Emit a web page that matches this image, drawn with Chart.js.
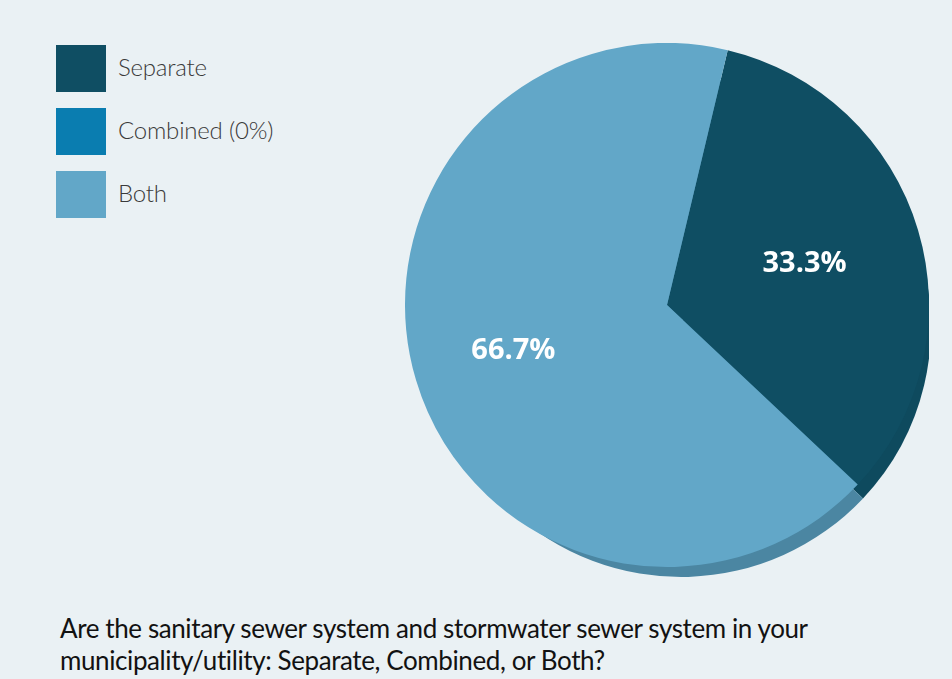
<!DOCTYPE html>
<html>
<head>
<meta charset="utf-8">
<script src="https://cdn.jsdelivr.net/npm/chart.js@4.4.1/dist/chart.umd.min.js"></script>
<style>
  html, body { margin: 0; padding: 0; }
  body { width: 952px; height: 679px; background: #eaf1f4; position: relative; overflow: hidden; font-family: Lato, "Open Sans", sans-serif; }
  #legend { position: absolute; left: 56px; top: 45px; }
  .item { display: flex; align-items: center; height: 47px; margin-bottom: 16px; }
  .swatch { width: 50px; height: 47px; margin-right: 12px; }
  .item span { font-size: 24px; font-weight: 300; color: #3a3a3a; letter-spacing: -0.2px; margin-top: -4px; }
  #wrap { position: absolute; left: 405px; top: 43px; width: 524px; height: 552px; }
  #title { position: absolute; left: 60px; top: 612px; font-size: 26px; line-height: 32px; color: #121212; letter-spacing: -0.4px; }
</style>
</head>
<body>
<div id="legend"></div>
<div id="wrap"><canvas id="pie"></canvas></div>
<div id="title">Are the sanitary sewer system and stormwater sewer system in your<br>municipality/utility: Separate, Combined, or Both?</div>
<script>
  "use strict";

  const categories = ["Separate", "Combined", "Both"];
  const legendLabels = ["Separate", "Combined (0%)", "Both"];
  const shares = [33.3, 0, 66.7];
  const sliceColors = ["#0f4e63", "#0a7db0", "#62a7c8"];
  const rimColors = ["#0e4a5e", "#08699a", "#4b86a2"];

  // legend built from the same arrays
  const legend = document.getElementById("legend");
  legendLabels.forEach((label, i) => {
    const row = document.createElement("div");
    row.className = "item";
    row.innerHTML = `<div class="swatch" style="background:${sliceColors[i]}"></div><span>${label}</span>`;
    legend.appendChild(row);
  });

  // darker side of each slice, shifted down for the tilted look
  const rim = {
    id: "rim",
    beforeDatasetsDraw(chart) {
      const { ctx } = chart;
      ctx.save();
      ctx.translate(14, 22);
      chart.getDatasetMeta(0).data.forEach((arc, i) => {
        if (!shares[i]) return;
        ctx.fillStyle = rimColors[i];
        ctx.beginPath();
        ctx.moveTo(arc.x, arc.y);
        ctx.arc(arc.x, arc.y, arc.outerRadius - 12, arc.startAngle, arc.endAngle);
        ctx.closePath();
        ctx.fill();
      });
      ctx.restore();
    },
  };

  // percentage labels inside the slices (nudged toward the tilted pie's apex)
  const sliceLabels = {
    id: "sliceLabels",
    afterDatasetsDraw(chart) {
      const { ctx } = chart;
      ctx.save();
      ctx.fillStyle = "#ffffff";
      ctx.font = "bold 29px 'Open Sans', Lato, sans-serif";
      ctx.textAlign = "center";
      ctx.textBaseline = "middle";
      chart.getDatasetMeta(0).data.forEach((arc, i) => {
        if (!shares[i]) return;
        const mid = (arc.startAngle + arc.endAngle) / 2;
        const r = arc.outerRadius * 0.58;
        ctx.fillText(shares[i].toFixed(1) + "%", arc.x - 8 + Math.cos(mid) * r, arc.y + 2 + Math.sin(mid) * r);
      });
      ctx.restore();
    },
  };

  new Chart(document.getElementById("pie"), {
    type: "pie",
    data: {
      labels: categories,
      datasets: [{ data: shares, backgroundColor: sliceColors, borderWidth: 0 }],
    },
    options: {
      responsive: true,
      maintainAspectRatio: false,
      animation: false,
      rotation: 13.4,
      layout: { padding: { bottom: 28 } },
      plugins: { legend: { display: false }, tooltip: { enabled: false } },
    },
    plugins: [rim, sliceLabels],
  });
</script>
</body>
</html>
